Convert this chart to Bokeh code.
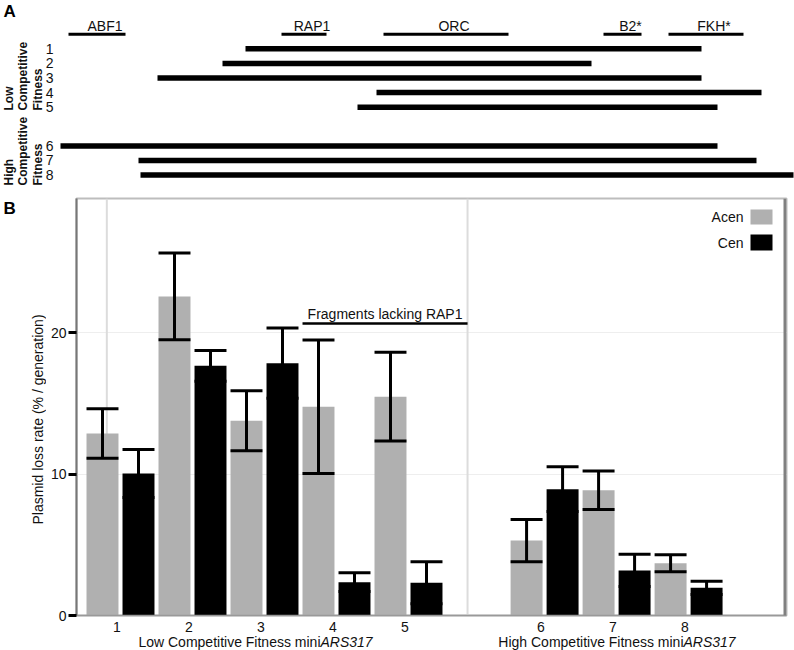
import math
from bokeh.plotting import figure
from bokeh.models import Range1d, FixedTicker, Span, ColumnDataSource
from bokeh.layouts import column, row
from bokeh.embed import file_html
from bokeh.resources import INLINE
from bokeh.core.properties import value

FONT = "Liberation Sans"
INK = "#111111"

# ---------------- Panel A data (positions along miniARS317, arbitrary units) ----
element_names = ["ABF1", "RAP1", "ORC", "B2*", "FKH*"]
element_start = [8, 221, 323, 543, 608]
element_end = [65, 266, 448, 581, 683]

fragment_ids = ["1", "2", "3", "4", "5", "6", "7", "8"]
fragment_group = ["Low", "Low", "Low", "Low", "Low", "High", "High", "High"]
fragment_start = [185, 162, 97, 316, 297, 0, 78, 80]
fragment_end = [641, 531, 641, 701, 657, 657, 696, 733]

# ---------------- Panel B data ----------------
constructs = ["1", "2", "3", "4", "5", "6", "7", "8"]
acen = [12.88, 22.57, 13.78, 14.77, 15.48, 5.30, 8.86, 3.70]
acen_err = [1.75, 3.07, 2.12, 4.72, 3.14, 1.49, 1.37, 0.60]
cen = [10.05, 17.66, 17.85, 2.36, 2.32, 8.94, 3.19, 1.96]
cen_err = [1.70, 1.09, 2.48, 0.67, 1.48, 1.58, 1.14, 0.47]
y_ticks = [0, 10, 20]
group_titles = ["Low Competitive Fitness mini", "High Competitive Fitness mini"]
group_italic = "ARS317"

W = 794

def bare(fig):
    fig.grid.visible = False
    fig.outline_line_color = None
    return fig

# ======================= Panel A =======================
HIGH_GAP = 1.65
slot = [i + 1 + (HIGH_GAP if g == "High" else 0) for i, g in enumerate(fragment_group)]

def ay(py):  # reference pixel row -> slot units
    return 1 + (py - 48.3) / 14.6

pa = bare(figure(width=W, height=190, x_range=Range1d(-60, W - 60),
                 y_range=Range1d(ay(190), ay(0)), output_backend="svg",
                 toolbar_location=None, min_border=0, title=None,
                 x_axis_location=None, y_axis_location=None))
pa.frame_align = False

el_src = ColumnDataSource(dict(
    x0=element_start, x1=element_end, y=[0] * len(element_names),
    ly=[ay(25.8)] * len(element_names),
    xm=[(a + b) / 2 + 8 for a, b in zip(element_start, element_end)],
    name=element_names))
pa.segment(x0="x0", y0="y", x1="x1", y1="y", source=el_src, line_width=3, line_color="black")
pa.text(x="xm", y="ly", text="name", source=el_src,
        text_align="center", text_baseline="middle",
        text_font=value(FONT), text_font_size="14px", text_color=INK)

fr_src = ColumnDataSource(dict(x0=fragment_start, x1=fragment_end, y=slot,
                               lab=fragment_ids, lx=[-7] * len(slot)))
pa.segment(x0="x0", y0="y", x1="x1", y1="y", source=fr_src, line_width=5.5, line_color="black")
pa.text(x="lx", y="y", text="lab", source=fr_src, text_align="right",
        text_baseline="middle", text_font=value(FONT), text_font_size="14px",
        text_color=INK)

for bottom, words in [(ay(110), ["Low", "Competitive", "Fitness"]),
                      (ay(185), ["High", "Competitive", "Fitness"])]:
    pa.text(x=[-52, -38, -23], y=[bottom] * 3, text=words, angle=math.pi / 2,
            text_align="left", text_baseline="middle", text_font=value(FONT),
            text_font_size="12px", text_font_style="bold", text_color=INK)

pa.text(x=[-57], y=[ay(11)], text=["A"], text_align="left", text_baseline="middle",
        text_font=value(FONT), text_font_size="17px", text_font_style="bold",
        text_color="black")

# ======================= Panel B =======================
Y_MAX = 29.5
GROUP_SHIFT = 0.89
pos = [i + 1 + (GROUP_SHIFT if i >= 5 else 0) for i in range(len(constructs))]
BAR_W = 0.444
OFF = 0.25
LEFT_W = 46
B_H = 444

def bx(px):
    return 1 + (px - 120) / 72.0

def by(py):
    return (615 - py) / (417.0 / Y_MAX)

# left strip: panel letter and y-axis title
pl = bare(figure(width=LEFT_W, height=B_H, x_range=Range1d(0, LEFT_W),
                 y_range=Range1d(B_H, 0), output_backend="svg",
                 toolbar_location=None, min_border=0, title=None,
                 x_axis_location=None, y_axis_location=None))
pl.frame_align = False
pl.text(x=[3], y=[17.5], text=["B"], text_align="left", text_baseline="middle",
        text_font=value(FONT), text_font_size="17px", text_font_style="bold",
        text_color="black")
pl.text(x=[37], y=[229], text=["Plasmid loss rate (% / generation)"], angle=math.pi / 2,
        text_align="center", text_baseline="middle", text_font=value(FONT),
        text_font_size="14px", text_color=INK)

x_rng = Range1d(bx(76), bx(786))
pb = figure(width=W - LEFT_W, height=B_H, x_range=x_rng,
            y_range=Range1d(0, Y_MAX), output_backend="svg",
            toolbar_location=None, title=None,
            min_border_left=76 - LEFT_W, min_border_right=W - 786, min_border_top=8,
            min_border_bottom=B_H - 8 - 417)
pb.frame_align = False
pb.xgrid.grid_line_color = None
pb.ygrid.grid_line_color = "#eeeeee"
pb.ygrid.ticker = FixedTicker(ticks=y_ticks)
pb.outline_line_color = "#bdbdbd"
pb.outline_line_width = 2

sep_left = pos[0] - 0.19
sep_mid = pos[4] + 0.82
for loc in (sep_left, sep_mid):
    pb.add_layout(Span(location=loc, dimension="height", line_color="#dcdcdc",
                       line_width=2, level="underlay"))

ax = [p - OFF for p in pos]
cx = [p + OFF for p in pos]
pb.vbar(x=ax, top=acen, width=BAR_W, bottom=0, fill_color="#b0b0b0", line_color=None)
pb.vbar(x=cx, top=cen, width=BAR_W, bottom=0, fill_color="black", line_color=None)

def errorbars(xs, ms, es):
    lo = [m - e for m, e in zip(ms, es)]
    hi = [m + e for m, e in zip(ms, es)]
    pb.segment(x0=xs, y0=lo, x1=xs, y1=hi, line_width=3, line_color="black")
    l = [x - BAR_W / 2 for x in xs]
    r = [x + BAR_W / 2 for x in xs]
    pb.segment(x0=l, y0=lo, x1=r, y1=lo, line_width=3, line_color="black")
    pb.segment(x0=l, y0=hi, x1=r, y1=hi, line_width=3, line_color="black")

errorbars(ax, acen, acen_err)
errorbars(cx, cen, cen_err)

# darker right border, drawn just inside the frame
pb.add_layout(Span(location=bx(784.5), dimension="height", line_color="#808080", line_width=3))

yax = pb.yaxis[0]
yax.ticker = FixedTicker(ticks=y_ticks)
yax.minor_tick_line_color = None
yax.major_tick_in = 0
yax.major_tick_out = 8
yax.major_tick_line_width = 3
yax.major_tick_line_color = "black"
yax.axis_line_color = "#777777"
yax.axis_line_width = 2
yax.major_label_standoff = 2
yax.major_label_text_font = FONT
yax.major_label_text_font_size = "14px"
yax.major_label_text_color = INK

xax = pb.xaxis[0]
tick_pos = [round(p - 0.05, 4) for p in pos]
xax.ticker = FixedTicker(ticks=tick_pos)
xax.major_label_overrides = {t: c for t, c in zip(tick_pos, constructs)}
xax.major_tick_line_color = None
xax.minor_tick_line_color = None
xax.axis_line_color = "#999999"
xax.axis_line_width = 1.5
xax.major_label_standoff = 0
xax.major_label_text_font = FONT
xax.major_label_text_font_size = "14px"
xax.major_label_text_color = INK

# "Fragments lacking RAP1"
f0 = ax[3] - BAR_W / 2
f1 = sep_mid
pb.segment(x0=[f0], y0=[by(323)], x1=[f1], y1=[by(323)], line_width=2.5, line_color="black")
pb.text(x=[(f0 + f1) / 2], y=[by(313.5)], text=["Fragments lacking RAP1"],
        text_align="center", text_baseline="middle",
        text_font=value(FONT), text_font_size="14px", text_color=INK)

# legend (labels to the left of swatches)
leg_names = ["Acen", "Cen"]
leg_cols = ["#b0b0b0", "black"]
leg_rows = [(209, 224), (234, 250)]
for name, col, (top, bot) in zip(leg_names, leg_cols, leg_rows):
    pb.quad(left=[bx(750)], right=[bx(772)], top=[by(top)], bottom=[by(bot)],
            fill_color=col, line_color=None)
    pb.text(x=[bx(743)], y=[by((top + bot) / 2)], text=[name],
            text_align="right", text_baseline="middle",
            text_font=value(FONT), text_font_size="14px", text_color=INK)

# group titles strip under the x axis (shares the x range)
C_H = 16
pc = bare(figure(width=W, height=C_H, x_range=x_rng, y_range=Range1d(C_H, 0),
                 output_backend="svg", toolbar_location=None, title=None,
                 min_border_left=76, min_border_right=W - 786, min_border_top=0,
                 min_border_bottom=0, x_axis_location=None, y_axis_location=None))
pc.frame_align = False
joins = [bx(320), bx(683)]
pc.text(x=joins, y=[7, 7], text=group_titles, text_align="right",
        text_baseline="middle", text_font=value(FONT), text_font_size="14px",
        text_color=INK)
pc.text(x=joins, y=[7, 7], text=[group_italic] * 2, text_align="left",
        text_baseline="middle", text_font=value(FONT), text_font_size="14px",
        text_font_style="italic", text_color=INK)

layout = column(pa, row(pl, pb), pc)
open("out.html", "w").write(file_html(layout, INLINE))
